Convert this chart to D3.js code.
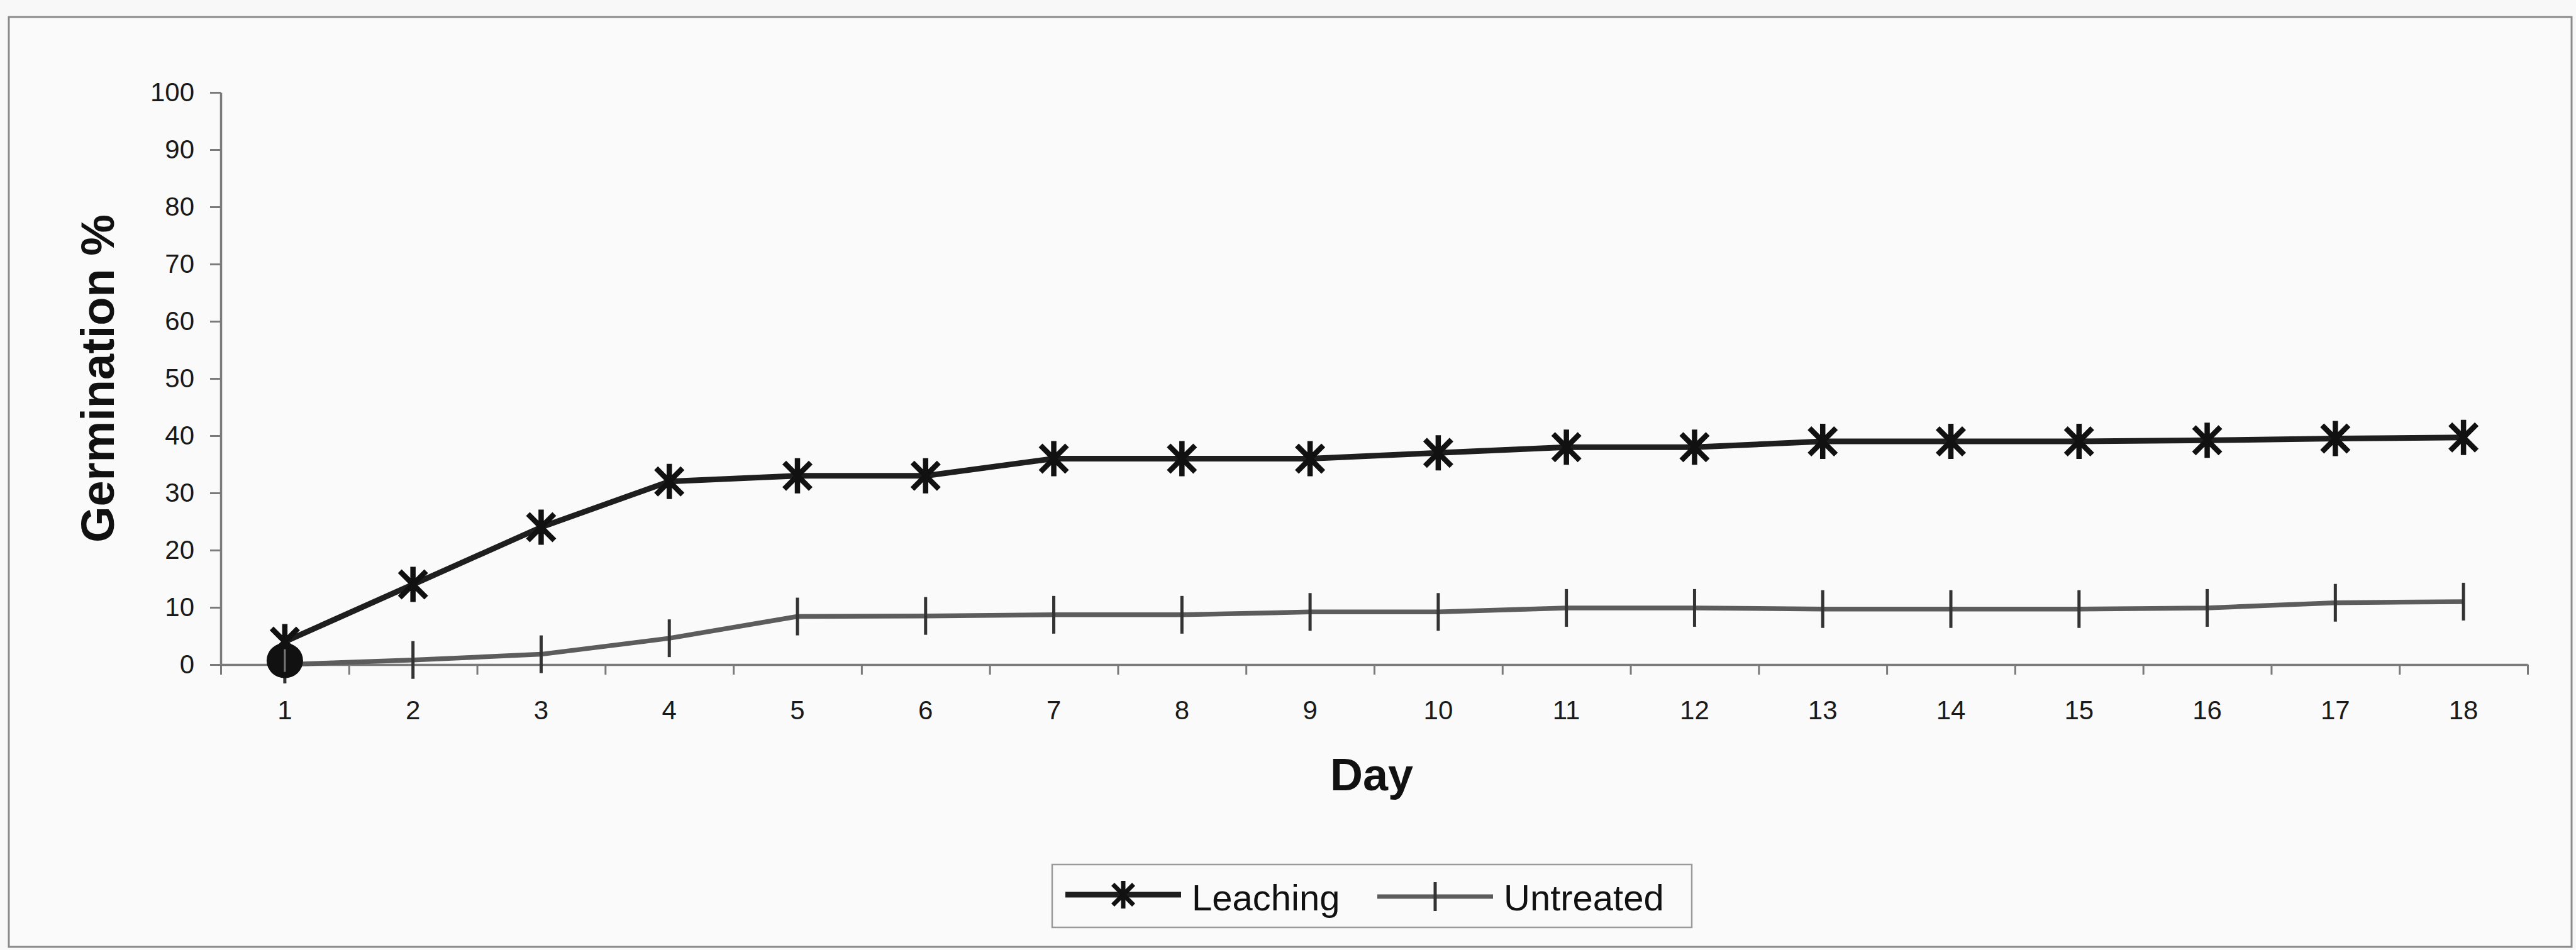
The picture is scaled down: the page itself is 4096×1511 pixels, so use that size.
<!DOCTYPE html>
<html>
<head>
<meta charset="utf-8">
<script src="https://cdn.jsdelivr.net/npm/d3@7"></script>
<style>
  html, body { margin: 0; padding: 0; background: #f8f8f8; }
  svg { display: block; }
</style>
</head>
<body>
<svg id="chart" width="4096" height="1511"></svg>
<script>
// Germination percentage per day for the two seed treatments
const days = d3.range(1, 19);
const leaching = [4, 14, 24, 32, 33, 33, 36, 36, 36, 37, 38, 38, 39, 39, 39, 39.2, 39.5, 39.7];
const untreated = [0, 0.8, 1.8, 4.6, 8.4, 8.5, 8.7, 8.7, 9.2, 9.2, 9.9, 9.9, 9.7, 9.7, 9.7, 9.9, 10.8, 11];
const yTicks = [0, 10, 20, 30, 40, 50, 60, 70, 80, 90, 100];
const seriesNames = ["Leaching", "Untreated"];

const svg = d3.select("#chart");
const font = "'Liberation Sans', Arial, Helvetica, sans-serif";

// outer frame
svg.append("rect")
  .attr("x", 14).attr("y", 27)
  .attr("width", 4089 - 14).attr("height", 1506 - 27)
  .attr("fill", "#fafafa").attr("stroke", "#8a8a8a").attr("stroke-width", 3);

const plot = { left: 351, right: 4019, top: 147, bottom: 1057 };

const x = d3.scaleBand().domain(days).range([plot.left, plot.right]).padding(0);
const xEdges = d3.scaleLinear().domain([0, days.length]).range([plot.left, plot.right]);
const y = d3.scaleLinear().domain([0, 100]).range([plot.bottom, plot.top]);
const cx = d => x(d) + x.bandwidth() / 2;

// y axis
const yAxis = svg.append("g")
  .attr("transform", `translate(${plot.left},0)`)
  .call(d3.axisLeft(y).tickValues(yTicks).tickSize(17).tickPadding(25).tickSizeOuter(0));
yAxis.select(".domain").attr("stroke", "#7a7a7a").attr("stroke-width", 3.5);
yAxis.selectAll(".tick line").attr("stroke", "#7a7a7a").attr("stroke-width", 3);
yAxis.selectAll(".tick text")
  .attr("font-family", font).attr("font-size", 42).attr("fill", "#1a1a1a");

// x axis: boundary ticks
const xTickAxis = svg.append("g")
  .attr("transform", `translate(0,${plot.bottom})`)
  .call(d3.axisBottom(xEdges).tickValues(d3.range(days.length + 1)).tickFormat("").tickSize(16).tickSizeOuter(0));
xTickAxis.select(".domain").attr("stroke", "#7a7a7a").attr("stroke-width", 3.5);
xTickAxis.selectAll(".tick line").attr("stroke", "#7a7a7a").attr("stroke-width", 3);

// x axis: day labels at band centres
const xLabelAxis = svg.append("g")
  .attr("transform", `translate(0,${plot.bottom})`)
  .call(d3.axisBottom(x).tickSize(0).tickPadding(57));
xLabelAxis.select(".domain").remove();
xLabelAxis.selectAll(".tick text")
  .attr("font-family", font).attr("font-size", 42).attr("fill", "#1a1a1a");

// axis titles
svg.append("text")
  .attr("x", 2181).attr("y", 1257)
  .attr("text-anchor", "middle")
  .attr("font-family", font).attr("font-weight", "bold").attr("font-size", 72)
  .attr("fill", "#111")
  .text("Day");

svg.append("text")
  .attr("transform", `translate(181,${(plot.top + plot.bottom) / 2}) rotate(-90)`)
  .attr("text-anchor", "middle")
  .attr("font-family", font).attr("font-weight", "bold").attr("font-size", 74)
  .attr("fill", "#111")
  .text("Germination %");

// star marker: vertical stroke plus two diagonals
function starPath(r) {
  const d = r * 0.75;
  return `M0,${-r}L0,${r}M${-d},${-d}L${d},${d}M${-d},${d}L${d},${-d}`;
}

const line = d3.line().x((v, i) => cx(days[i])).y(v => y(v));

// Untreated series
svg.append("path")
  .datum(untreated)
  .attr("d", line)
  .attr("fill", "none").attr("stroke", "#5c5c5c").attr("stroke-width", 7.5)
  .attr("stroke-linejoin", "round");
svg.append("g").selectAll("line")
  .data(untreated)
  .join("line")
  .attr("x1", (v, i) => cx(days[i])).attr("x2", (v, i) => cx(days[i]))
  .attr("y1", v => y(v) - 30).attr("y2", v => y(v) + 30)
  .attr("stroke", "#333").attr("stroke-width", 5);

// Leaching series
svg.append("path")
  .datum(leaching)
  .attr("d", line)
  .attr("fill", "none").attr("stroke", "#1e1e1e").attr("stroke-width", 9)
  .attr("stroke-linejoin", "round");
svg.append("g").selectAll("path")
  .data(leaching)
  .join("path")
  .attr("transform", (v, i) => `translate(${cx(days[i])},${y(v)})`)
  .attr("d", starPath(28))
  .attr("fill", "none").attr("stroke", "#111").attr("stroke-width", 8.5);

// filled dot on the first untreated reading
svg.append("ellipse")
  .attr("cx", cx(days[0])).attr("cy", y(untreated[0] + 0.7))
  .attr("rx", 29).attr("ry", 28)
  .attr("fill", "#111");
svg.append("line")
  .attr("x1", cx(days[0])).attr("x2", cx(days[0]))
  .attr("y1", y(untreated[0] + 0.7) - 18).attr("y2", y(untreated[0] + 0.7) + 18)
  .attr("stroke", "#777").attr("stroke-width", 3);

// legend
const legend = svg.append("g");
legend.append("rect")
  .attr("x", 1673).attr("y", 1375).attr("width", 2690 - 1673).attr("height", 1475 - 1375)
  .attr("fill", "#fafafa").attr("stroke", "#9a9a9a").attr("stroke-width", 2.5);

const legendItems = [
  { name: seriesNames[0], x0: 1694, x1: 1878, ly: 1423, tx: 1895, color: "#1e1e1e", w: 9 },
  { name: seriesNames[1], x0: 2190, x1: 2374, ly: 1426, tx: 2391, color: "#5c5c5c", w: 7 }
];
legendItems.forEach((it, k) => {
  legend.append("line")
    .attr("x1", it.x0).attr("x2", it.x1).attr("y1", it.ly).attr("y2", it.ly)
    .attr("stroke", it.color).attr("stroke-width", it.w);
  const mx = (it.x0 + it.x1) / 2;
  if (k === 0) {
    legend.append("path")
      .attr("transform", `translate(${mx},${it.ly})`)
      .attr("d", starPath(22))
      .attr("fill", "none").attr("stroke", "#111").attr("stroke-width", 7);
  } else {
    legend.append("line")
      .attr("x1", mx).attr("x2", mx).attr("y1", it.ly - 23).attr("y2", it.ly + 23)
      .attr("stroke", "#333").attr("stroke-width", 5);
  }
  legend.append("text")
    .attr("x", it.tx).attr("y", 1448)
    .attr("font-family", font).attr("font-size", 58).attr("fill", "#111")
    .text(it.name);
});
</script>
</body>
</html>
